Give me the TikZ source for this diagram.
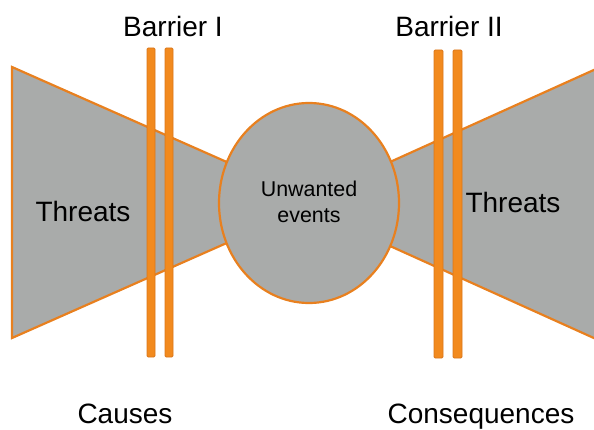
\documentclass[tikz,border=0pt]{standalone}
\usepackage{fontspec}
\setmainfont{Liberation Sans}
\definecolor{fillgray}{HTML}{A9ABAA}
\definecolor{edgeorange}{HTML}{E8801F}
\definecolor{barorange}{HTML}{F28A1E}
\definecolor{bardark}{HTML}{DA771B}
\begin{document}
\begin{tikzpicture}[x=1pt,y=-1pt,
  shapefill/.style={fill=fillgray,draw=edgeorange,line width=2.2pt,line join=miter},
  barrier/.style={fill=barorange,draw=bardark,line width=0.8pt,rounded corners=1.2pt},
  bigtext/.style={anchor=base,inner sep=0pt,font=\fontsize{28}{31}\selectfont},
  smalltext/.style={anchor=base,inner sep=0pt,font=\fontsize{21.4}{26}\selectfont}]
\useasboundingbox (0,0) rectangle (594,430);
% left wedge
\draw[shapefill] (12,67) -- (229,163) -- (229,242) -- (12,338) -- cycle;
% right wedge
\draw[shapefill] (596,69) -- (390,162) -- (390,246) -- (596,339) -- cycle;
% central event
\draw[shapefill] (309,203) ellipse [x radius=90, y radius=100];
\node[smalltext] (unw) at (309,197) {Unwanted};
\node[smalltext] (ev) at (309,223) {events};
% barriers
\draw[barrier] (147,48) rectangle (155,357);
\draw[barrier] (165,48) rectangle (173,357);
\draw[barrier] (434,50) rectangle (443,358);
\draw[barrier] (453,50) rectangle (462,358);
% labels
\node[bigtext] (b1) at (173,37) {Barrier I};
\node[bigtext] (b2) at (449,37) {Barrier II};
\node[bigtext] (t1) at (83,222) {Threats};
\node[bigtext] (t2) at (513,213) {Threats};
\node[bigtext] (c1) at (125,423) {Causes};
\node[bigtext] (c2) at (481,423) {Consequences};
\end{tikzpicture}
\end{document}
